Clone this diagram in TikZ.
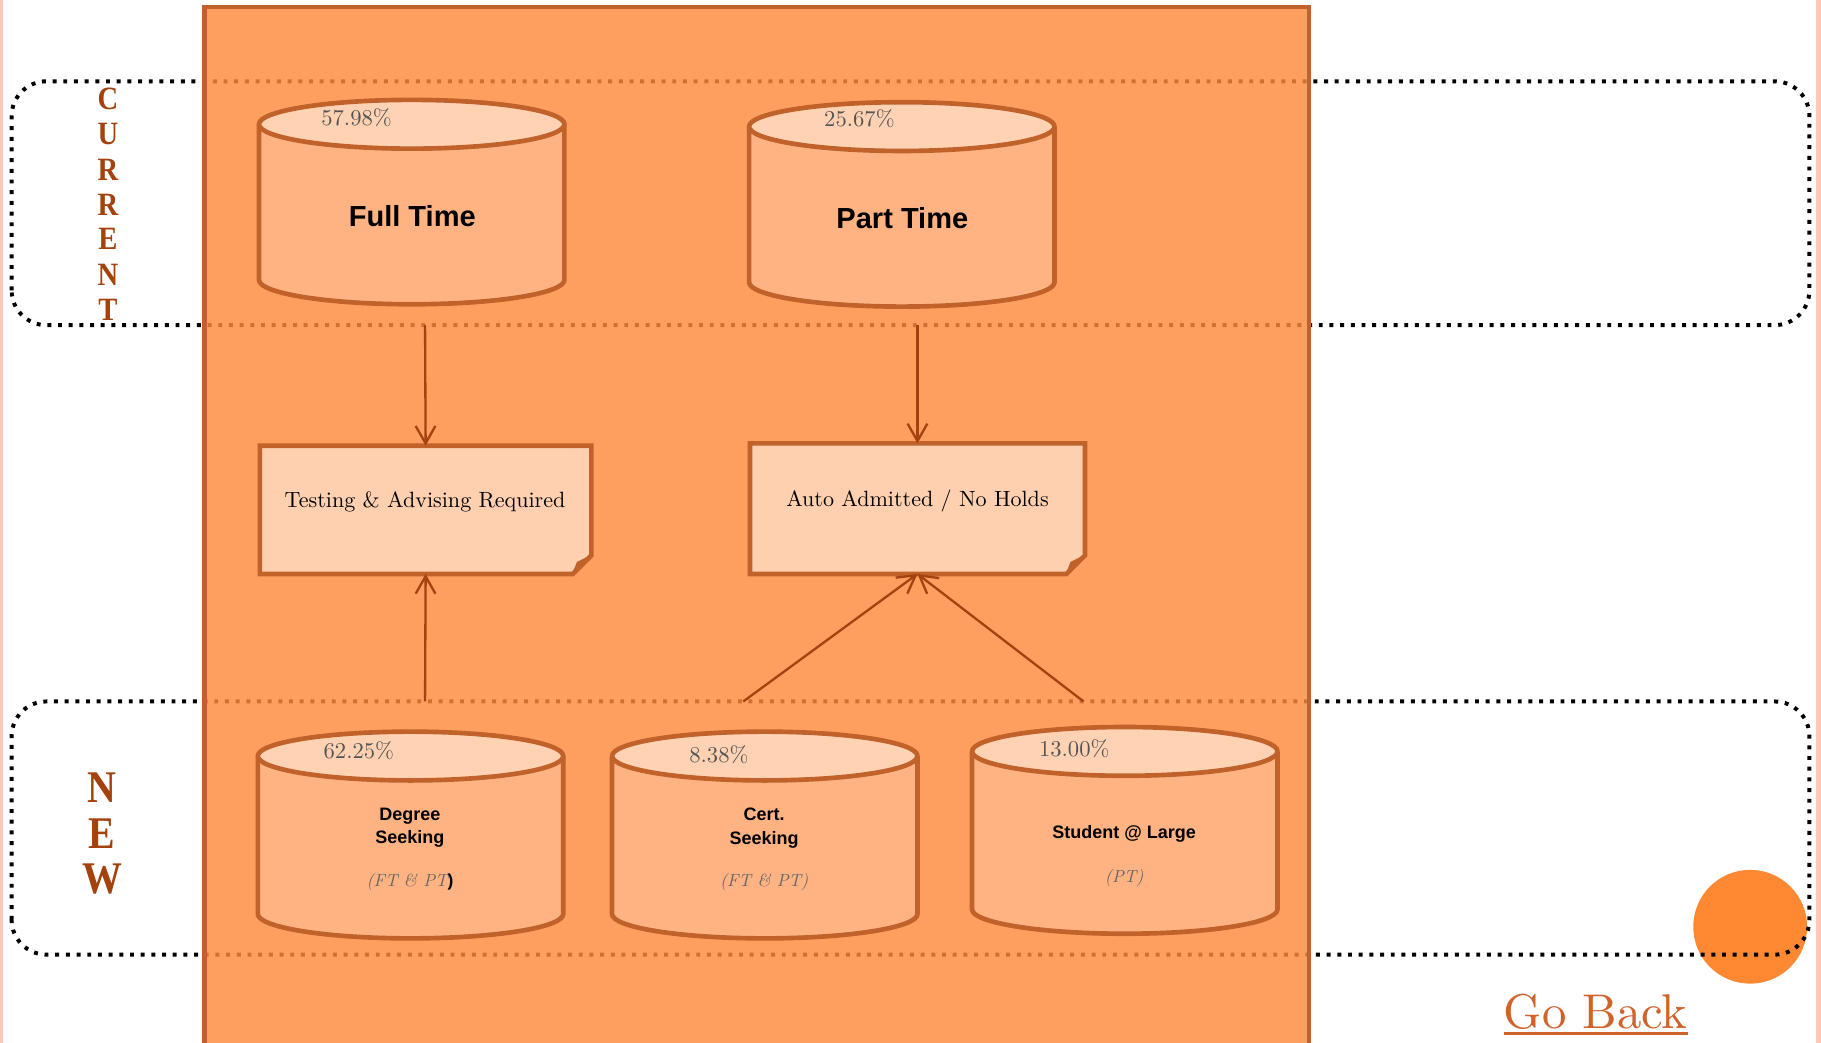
\documentclass[tikz,border=0pt]{standalone}
\usepackage{fontspec}
\newfontfamily\sansb{Liberation Sans}
\newfontfamily\serifb{Liberation Serif}
\newfontfamily\lmten{lmroman10-regular.otf}[BoldFont=lmroman10-bold.otf,ItalicFont=lmroman10-italic.otf]
\usetikzlibrary{arrows.meta}
\definecolor{pinkedge}{HTML}{FFC8B8}
\definecolor{obase}{HTML}{FF8B3C}
\definecolor{oborder}{HTML}{C0622A}
\definecolor{cylbody}{HTML}{FFB383}
\definecolor{cyltop}{HTML}{FFD2B4}
\definecolor{notefill}{HTML}{FFD0B0}
\definecolor{arrowc}{HTML}{A5420F}
\definecolor{letterc}{HTML}{A3420C}
\definecolor{pctc}{HTML}{555555}
\definecolor{itc}{HTML}{666666}
\definecolor{gobackc}{HTML}{D0632A}
\definecolor{blobc}{HTML}{FF8833}
\newcommand\cylshape[4]{% name, cx, ytop, ybot
  \fill[cylbody] (#2-131.5,#3) -- (#2-131.5,#4) arc[start angle=180,end angle=360,x radius=131.5,y radius=21] -- (#2+131.5,#3) -- cycle;
  \draw[cylline] (#2-131.5,#3) -- (#2-131.5,#4) arc[start angle=180,end angle=360,x radius=131.5,y radius=21] -- (#2+131.5,#3);
  \filldraw[cylline,fill=cyltop] (#2,#3) ellipse[x radius=131.5,y radius=21];
  \node[inner sep=0pt,minimum width=263pt,minimum height={#3-#4+42}] (#1) at (#2,{(#3+#4)/2}) {};
}
\newcommand\noteshape[1]{%
  \filldraw[noteline] (#1.north west) -- (#1.north east) -- ([yshift=16pt]#1.south east) -- ([xshift=-16pt]#1.south east) -- (#1.south west) -- cycle;
  \filldraw[oborder,line width=1pt,line join=round] ([yshift=16pt]#1.south east) -- ([xshift=-16pt]#1.south east) -- ([xshift=-12pt,yshift=10pt]#1.south east) -- cycle;
}
\begin{document}
\begin{tikzpicture}[x=1pt,y=1pt,
  blackdots/.style={draw=black,line width=3.4pt,dash pattern=on 3.4pt off 5.8pt,rounded corners=30pt},
  bigrect/.style={draw=oborder,fill=obase,fill opacity=0.82,line width=4pt},
  cylline/.style={draw=oborder,line width=4pt,line join=round},
  noteline/.style={draw=oborder,fill=notefill,line width=4pt,line join=miter},
  boxslot/.style={inner sep=0pt},
  pct/.style={font=\lmten\fontsize{19.5}{20}\selectfont,text=pctc,inner sep=0pt},
  bigsans/.style={font=\sansb\bfseries\fontsize{25}{28}\selectfont,text=black,inner sep=0pt},
  smallsans/.style={font=\sansb\bfseries\fontsize{15.5}{20}\selectfont,text=black,align=center,inner sep=0pt},
  ital/.style={font=\lmten\itshape\fontsize{15}{18}\selectfont,text=itc,inner sep=0pt},
  notetext/.style={font=\lmten\fontsize{19}{22}\selectfont,text=black,inner sep=0pt},
  curl/.style={font=\serifb\bfseries\fontsize{28}{28}\selectfont,text=letterc,inner sep=0pt},
  newl/.style={font=\serifb\bfseries\fontsize{39}{39}\selectfont,text=letterc,inner sep=0pt},
  flow/.style={draw=arrowc,line width=2pt,-{Straight Barb[length=15pt,width=17pt,line width=2pt]}}
]
\useasboundingbox (0,0) rectangle (1568,898);
\fill[white] (0,0) rectangle (1568,898);
\fill[pinkedge] (0,0) rectangle (2.5,898);
\fill[pinkedge] (1563.5,0) rectangle (1568,898);
\fill[blobc] (1507,100) circle[radius=49];
\draw[blackdots] (10,618) rectangle (1558,828);
\draw[blackdots] (10,76) rectangle (1558,294);
\draw[bigrect] (176,-10) rectangle (1127,892);

% letters
\foreach \l/\yy [count=\i] in {C/813,U/783,R/752,R/722,E/692,N/661,T/631}
  \node[curl] (cur\i) at (93,\yy) {\scalebox{0.88}[1]{\l}};
\node[newl] (newN) at (88,220) {\scalebox{0.88}[1]{N}};
\node[newl] (newE) at (88,180) {\scalebox{0.88}[1]{E}};
\node[newl] (newW) at (88,141) {\scalebox{0.88}[1]{W}};

% cylinders
\cylshape{ft}{354.5}{791}{657}
\cylshape{pt}{776.5}{789}{655}
\cylshape{ds}{353.5}{247}{111}
\cylshape{cs}{658.5}{247}{111}
\cylshape{sl}{968.5}{251}{115}

\node[pct] (ftp) at (307,797) {57.98\%};
\node[pct] (ptp) at (740,796) {25.67\%};
\node[pct] (dsp) at (309,252) {62.25\%};
\node[pct] (csp) at (619,248) {8.38\%};
\node[pct] (slp) at (925,253) {13.00\%};

\node[bigsans] (ftl) at (355,712) {Full Time};
\node[bigsans] (ptl) at (777,710) {Part Time};
\node[smallsans] (dsl) at (353,185) {Degree\\Seeking};
\node[smallsans] (csl) at (658,185) {Cert.\\Seeking};
\node[smallsans] (sll) at (968,180) {Student @ Large};
\node[ital] (dsi) at (353,138) {(FT \& PT\textcolor{black}{\upshape\sansb\bfseries)}};
\node[ital] (csi) at (658,138) {(FT \& PT)};
\node[ital] (sli) at (968,142) {(PT)};

% notes
\node[boxslot,minimum width=285pt,minimum height=110pt] (test) at (366.5,459) {};
\noteshape{test}
\node[boxslot,minimum width=288pt,minimum height=112pt] (auto) at (790,460) {};
\noteshape{auto}
\node[notetext] (testt) at (366,466) {Testing \& Advising Required};
\node[notetext] (autot) at (790,467) {Auto Admitted / No Holds};

% connectors
\coordinate (s1) at (366,618);
\coordinate (s2) at (790,618);
\coordinate (s3) at (366,294);
\coordinate (s4) at (640,294);
\coordinate (s5) at (933,294);
\draw[flow] (s1) -- (test.north);
\draw[flow] (s2) -- (auto.north);
\draw[flow] (s3) -- (test.south);
\draw[flow] (s4) -- (auto.south);
\draw[flow] (s5) -- (auto.south);

% go back
\node[font=\lmten\fontsize{42}{46}\selectfont,text=gobackc,inner sep=0pt,anchor=base] (gb) at (1374,12) {Go Back};
\draw[gobackc,line width=2.5pt] ([yshift=-4pt]gb.base west) -- ([yshift=-4pt]gb.base east);
\end{tikzpicture}
\end{document}
